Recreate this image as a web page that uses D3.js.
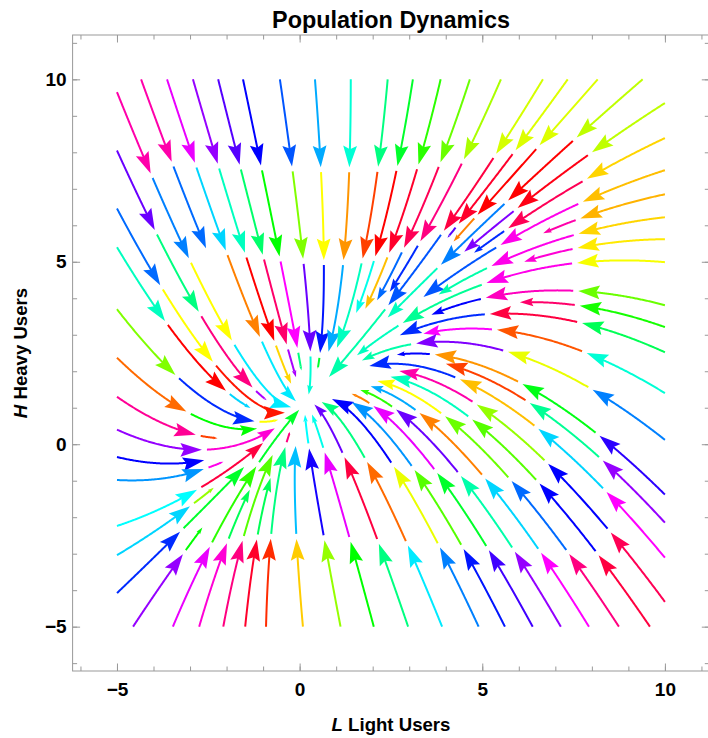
<!DOCTYPE html>
<html>
<head>
<meta charset="utf-8">
<script src="https://cdn.jsdelivr.net/npm/d3@7"></script>
<style>
  body { margin: 0; background: #fff; }
  text { font-family: "Liberation Sans", Arial, sans-serif; }
</style>
</head>
<body>
<div id="chart"></div>
<script>
// linear model  dL/dt = a*L + b*H + c ,  dH/dt = d*L + e*H + f
var rateL = [-1.0, 0.14, 0.0];
var rateH = [0.653, -1.46, 1.55];

var majorTicks = [-5, 0, 5, 10];
var minorTicks = d3.range(-6, 12);

// where each stream line starts (L, H) and the hue of each of its pieces
var startL = [-4.34, -3.63, -2.92, -2.23, -1.55, -0.54, 0.42, 1.40, 2.41, 3.10, 3.86, 4.66, 5.51, 6.66, 7.34, 8.16, 9.39,
  -4.56, -3.47, -2.75, -2.09, -1.49, -0.92, 0.09, 1.12, 2.03, 2.97, 3.90, 4.90, 5.62, 6.38, 7.15, 7.92, 8.74, 9.59,
  -5, -5, -5, -5, -5, -5, -5, -5, -5, -5, -5, -5, -5,
  10, 10, 10, 10, 10, 10, 10, 10, 10, 10, 10, 10, 10, 10, 10, 10];
var startH = [10, 10, 10, 10, 10, 10, 10, 10, 10, 10, 10, 10, 10, 10, 10, 10, 10,
  -5, -5, -5, -5, -5, -5, -5, -5, -5, -5, -5, -5, -5, -5, -5, -5, -5, -5,
  9.65, 8.05, 6.46, 5.40, 3.70, 2.37, 1.30, 0.40, -0.35, -0.98, -2.24, -3.04, -4.08,
  9.35, 8.39, 7.51, 6.85, 6.22, 5.62, 4.99, 3.81, 3.21, 2.52, 1.40, 0.12, -1.38, -2.15, -3.11, -4.32];
var pieceHues = [
  [320, 215], [295, 190, 30, 185], [275, 165, 0, 50], [260, 145, 335, 280],
  [240, 120, 300, 150], [220, 90, 265, 170], [200, 60, 235, 130], [170, 35, 200, 300], [150, 15, 165, 45],
  [130, 0, 175, 60], [110, 350, 45, 200], [95, 340, 215, 160], [80, 330, 230, 45], [70, 345, 220, 160],
  [68, 350, 260, 150], [68, 0, 30, 230], [75, 0, 210, 165],
  [275, 120], [295, 110, 130], [310, 140, 60], [330, 100, 170], [350, 140, 90], [10, 150, 330],
  [48, 195, 160], [85, 245, 180], [120, 295, 175], [150, 345, 265], [185, 25, 150, 240], [210, 65, 240, 200],
  [235, 100, 205, 290], [255, 130, 295, 30], [275, 160, 265, 110], [300, 190, 30, 200], [330, 215, 95, 60],
  [345, 240, 100, 165],
  [320, 210, 60, 185, 280], [265, 150, 330, 280], [215, 60, 5, 45], [165, 0, 190, 30], [90, 230, 60],
  [25, 120, 300], [325, 15], [275, 310, 140], [240], [205, 305], [180, 345, 150], [190, 85],
  [230, 130, 300],
  [75, 355, 270], [50, 340, 230], [45, 305, 220], [42, 320], [50, 305, 160], [55, 310], [62, 305, 155, 165],
  [95, 315, 240, 150], [115, 335], [140, 345, 230, 170], [170, 20, 300, 180], [210, 65, 270, 160],
  [250, 125, 35, 240], [275, 155, 15, 200], [300, 190, 45, 230], [340, 240, 85, 320]];
// short last pieces (px), by stream index
var lastPiece = {17: 28, 41: 17, 44: 16, 49: 50, 51: 35, 53: 50, 56: 55};

var width = 708, height = 738;
var pieceLen = 88, gapLen = 5;

var svg = d3.select("#chart").append("svg")
    .attr("width", width)
    .attr("height", height);

var x = d3.scaleLinear().domain([-6.215, 11.215]).range([72.6, 709.3]);
var y = d3.scaleLinear().domain([-6.215, 11.215]).range([671, 35]);

function rate(L, Hv) {
  return [rateL[0] * L + rateL[1] * Hv + rateL[2], rateH[0] * L + rateH[1] * Hv + rateH[2]];
}

// unit direction on screen
function dir(px, py) {
  var v = rate(x.invert(px), y.invert(py));
  var dx = v[0] * (x(1) - x(0)), dy = v[1] * (y(1) - y(0));
  var m = Math.hypot(dx, dy);
  if (m < 1e-6) return null;
  return [dx / m, dy / m];
}

// resting point of the model
var det = rateL[0] * rateH[1] - rateL[1] * rateH[0];
var eqL = (-rateL[2] * rateH[1] + rateL[1] * rateH[2]) / det;
var eqH = (-rateL[0] * rateH[2] + rateH[0] * rateL[2]) / det;
var eqX = x(eqL), eqY = y(eqH);

// grid of drawn points, to stop streams that run into others
var cell = 8, grid = {}, minGap = 7;
function near(px, py, id) {
  var gx = Math.floor(px / cell), gy = Math.floor(py / cell);
  for (var i = -1; i <= 1; i++) for (var j = -1; j <= 1; j++) {
    var c = grid[(gx + i) + "_" + (gy + j)];
    if (!c) continue;
    for (var k = 0; k < c.length; k++) {
      if (c[k][2] !== id && Math.hypot(c[k][0] - px, c[k][1] - py) < minGap) return true;
    }
  }
  return false;
}
function store(pts, id) {
  pts.forEach(function(p) {
    var key = Math.floor(p[0] / cell) + "_" + Math.floor(p[1] / cell);
    (grid[key] = grid[key] || []).push([p[0], p[1], id]);
  });
}

function trace(L0, H0, maxLen, id) {
  var px = x(L0), py = y(H0), pts = [[px, py]];
  for (var s = 0; s < maxLen; s++) {
    var d1 = dir(px, py);
    if (!d1) break;
    var d2 = dir(px + d1[0] * 0.5, py + d1[1] * 0.5);
    if (!d2) break;
    px += d2[0]; py += d2[1];
    var L = x.invert(px), Hv = y.invert(py);
    if (L < -5.001 || L > 10.001 || Hv < -5.001 || Hv > 10.001) break;
    if (Math.hypot(px - eqX, py - eqY) < 9) break;
    if (s > 15 && near(px, py, id)) break;
    pts.push([px, py]);
  }
  return pts;
}

var streams = svg.append("g").attr("class", "streams");
var line = d3.line();

startL.forEach(function(L0, i) {
  var hues = pieceHues[i];
  var n = hues.length;
  var last = lastPiece[i] || pieceLen;
  var total = (n - 1) * (pieceLen + gapLen) + last;
  var pts = trace(L0, startH[i], total, i);
  store(pts, i);
  for (var k = 0; k < n; k++) {
    var a = k * (pieceLen + gapLen);
    var want = (k === n - 1) ? last : pieceLen;
    var b = Math.min(a + want, pts.length - 1);
    var len = b - a;
    if (len < 8) break;
    var color = d3.hsl(hues[k], 1, 0.5).toString();
    var head = 21.5 * Math.min(1, len / pieceLen);
    var tip = pts[b], back = pts[Math.max(a, b - 3)];
    var ux = tip[0] - back[0], uy = tip[1] - back[1], um = Math.hypot(ux, uy) || 1;
    ux /= um; uy /= um;
    var cut = Math.max(a + 1, Math.round(b - head * 0.8));
    streams.append("path")
        .attr("d", line(pts.slice(a, cut + 1)))
        .attr("fill", "none")
        .attr("stroke", color)
        .attr("stroke-width", 2);
    var bx = tip[0] - ux * head, by = tip[1] - uy * head, hw = head * 0.32;
    var notch = [tip[0] - ux * head * 0.84, tip[1] - uy * head * 0.84];
    streams.append("path")
        .attr("d", "M" + tip + "L" + [bx - uy * hw, by + ux * hw] + "L" + notch + "L" + [bx + uy * hw, by - ux * hw] + "Z")
        .attr("fill", color);
  }
});

// frame with ticks pointing inward
var frame = svg.append("g").attr("class", "frame");
function frameAxis(axis, tx, ty, withLabels) {
  var g = frame.append("g").attr("transform", "translate(" + tx + "," + ty + ")").call(axis);
  g.select(".domain").remove();
  g.selectAll("line").attr("stroke", "#999");
  if (!withLabels) g.selectAll("text").remove();
  return g;
}
frameAxis(d3.axisBottom(x).tickValues(minorTicks).tickSize(-4.5).tickFormat(""), 0, 671, false);
frameAxis(d3.axisTop(x).tickValues(minorTicks).tickSize(-4.5).tickFormat(""), 0, 35, false);
frameAxis(d3.axisLeft(y).tickValues(minorTicks).tickSize(-4.5).tickFormat(""), 72.6, 0, false);
frameAxis(d3.axisRight(y).tickValues(minorTicks).tickSize(-4.5).tickFormat(""), 709.3, 0, false);
frameAxis(d3.axisTop(x).tickValues(majorTicks).tickSize(-7.5), 0, 35, false);
frameAxis(d3.axisRight(y).tickValues(majorTicks).tickSize(-7.5), 709.3, 0, false);

var xAxis = frameAxis(d3.axisBottom(x).tickValues(majorTicks).tickSize(-7.5).tickPadding(12), 0, 671, true);
var yAxis = frameAxis(d3.axisLeft(y).tickValues(majorTicks).tickSize(-7.5).tickPadding(6), 72.6, 0, true);
svg.selectAll(".frame text")
    .attr("font-size", 19)
    .attr("font-weight", "bold")
    .attr("fill", "#000")
    .style("font-family", "'Liberation Sans', Arial, sans-serif");

frame.append("rect")
    .attr("x", 72.6).attr("y", 35)
    .attr("width", 709.3 - 72.6).attr("height", 671 - 35)
    .attr("fill", "none")
    .attr("stroke", "#999")
    .attr("stroke-width", 1);

svg.append("text")
    .attr("x", 391).attr("y", 28)
    .attr("text-anchor", "middle")
    .attr("font-size", 23.4)
    .attr("font-weight", "bold")
    .text("Population Dynamics");

var xl = svg.append("text")
    .attr("x", 391).attr("y", 731)
    .attr("text-anchor", "middle")
    .attr("font-size", 18.6)
    .attr("font-weight", "bold");
xl.append("tspan").attr("font-style", "italic").text("L");
xl.append("tspan").text(" Light Users");

var yl = svg.append("text")
    .attr("transform", "translate(27,353) rotate(-90)")
    .attr("text-anchor", "middle")
    .attr("font-size", 18.6)
    .attr("font-weight", "bold");
yl.append("tspan").attr("font-style", "italic").text("H");
yl.append("tspan").text(" Heavy Users");
</script>
</body>
</html>
